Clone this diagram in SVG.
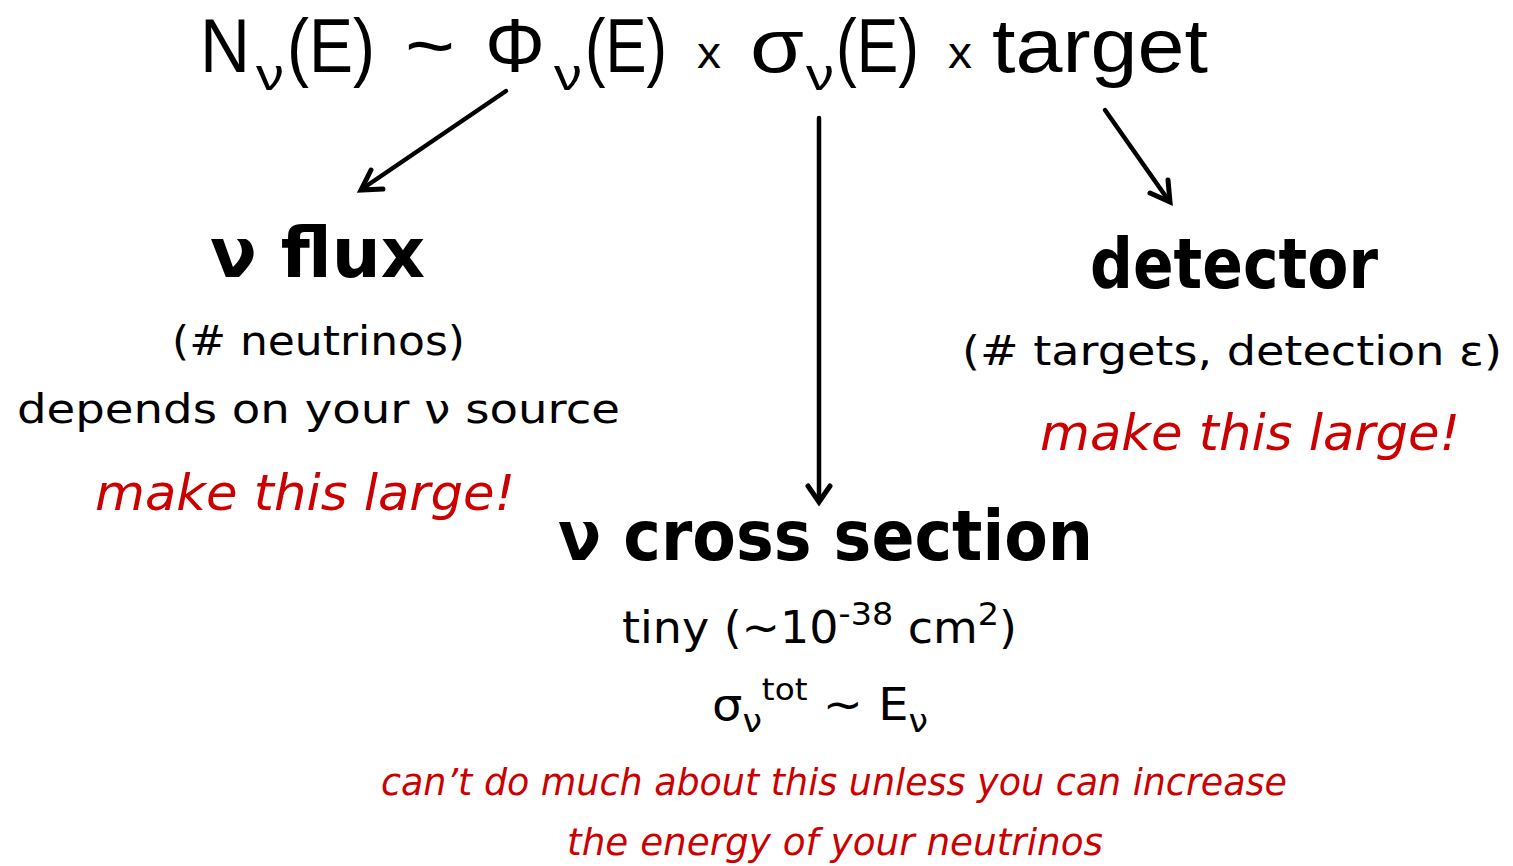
<svg xmlns="http://www.w3.org/2000/svg" width="1513" height="866" viewBox="0 0 1513 866">
<style>
.t{font-family:"Liberation Sans","DejaVu Sans",sans-serif;fill:#000}
.h{font-size:76px}
.s{font-size:44px}
.b{font-family:"DejaVu Sans","Liberation Sans",sans-serif;font-weight:bold;font-size:70px;fill:#000}
.n{font-family:"DejaVu Sans","Liberation Sans",sans-serif;font-size:40px;fill:#000}
.m{font-family:"DejaVu Sans","Liberation Sans",sans-serif;font-size:44px;fill:#000}
.r{font-family:"DejaVu Sans","Liberation Sans",sans-serif;font-style:italic;font-size:50px;fill:#cc0000}
.rs{font-family:"DejaVu Sans","Liberation Sans",sans-serif;font-style:italic;font-size:38px;fill:#cc0000}
.a{stroke:#000;stroke-width:4.5;fill:none;stroke-linecap:round}
.hd{stroke:#000;stroke-width:5;fill:none;stroke-linejoin:miter;stroke-linecap:round}
</style>
<g id="formula">
<text class="t h" x="200" y="72" textLength="50" lengthAdjust="spacingAndGlyphs">N</text>
<text class="t s" x="256" y="90" textLength="28" lengthAdjust="spacingAndGlyphs">ν</text>
<text class="t h" x="287" y="72" textLength="88" lengthAdjust="spacingAndGlyphs">(E)</text>
<text class="t h" x="405" y="72" textLength="50" lengthAdjust="spacingAndGlyphs">~</text>
<text class="t h" x="485" y="72" textLength="60" lengthAdjust="spacingAndGlyphs">Φ</text>
<text class="t s" x="554" y="90" textLength="28" lengthAdjust="spacingAndGlyphs">ν</text>
<text class="t h" x="585" y="72" textLength="82" lengthAdjust="spacingAndGlyphs">(E)</text>
<text class="t s" x="697" y="68" textLength="24" lengthAdjust="spacingAndGlyphs">x</text>
<text class="t h" x="750" y="72" textLength="54" lengthAdjust="spacingAndGlyphs">σ</text>
<text class="t s" x="806" y="90" textLength="28" lengthAdjust="spacingAndGlyphs">ν</text>
<text class="t h" x="836" y="72" textLength="83" lengthAdjust="spacingAndGlyphs">(E)</text>
<text class="t s" x="948" y="68" textLength="24" lengthAdjust="spacingAndGlyphs">x</text>
<text class="t h" x="992" y="72" textLength="216" lengthAdjust="spacingAndGlyphs">target</text>
</g>
<g id="connectors">
<line class="a" x1="506" y1="91" x2="362" y2="189"/>
<polyline class="hd" points="383,189 361,190 371,170"/>
<line class="a" x1="819" y1="118" x2="819" y2="501"/>
<polyline class="hd" points="808,486 819,502 830,486"/>
<line class="a" x1="1105" y1="110" x2="1169" y2="201"/>
<polyline class="hd" points="1168,180 1170,202 1150,193"/>
</g>
<g id="flux">
<text class="b" x="210" y="277" textLength="215" lengthAdjust="spacingAndGlyphs">ν flux</text>
<text class="n" x="172" y="355" textLength="293" lengthAdjust="spacingAndGlyphs">(# neutrinos)</text>
<text class="n" x="17" y="423" textLength="603" lengthAdjust="spacingAndGlyphs">depends on your ν source</text>
<text class="r" x="95" y="510" textLength="420" lengthAdjust="spacingAndGlyphs">make this large!</text>
</g>
<g id="detector">
<text class="b" x="1090" y="288" textLength="288" lengthAdjust="spacingAndGlyphs">detector</text>
<text class="n" x="962" y="365" textLength="540" lengthAdjust="spacingAndGlyphs">(# targets, detection ε)</text>
<text class="r" x="1040" y="450" textLength="420" lengthAdjust="spacingAndGlyphs">make this large!</text>
</g>
<g id="cross-section">
<text class="b" x="558" y="560" textLength="535" lengthAdjust="spacingAndGlyphs">ν cross section</text>
<text class="m" x="622" y="643" textLength="395" lengthAdjust="spacingAndGlyphs">tiny (~10<tspan dy="-18" font-size="32">-38</tspan><tspan dy="18"> cm</tspan><tspan dy="-18" font-size="32">2</tspan><tspan dy="18">)</tspan></text>
<text class="m" x="712" y="720" textLength="216" lengthAdjust="spacingAndGlyphs">σ<tspan dy="12" font-size="32">ν</tspan><tspan dy="-32" font-size="30">tot</tspan><tspan dy="20"> ~ E</tspan><tspan dy="12" font-size="32">ν</tspan></text>
<text class="rs" x="381" y="795" textLength="906" lengthAdjust="spacingAndGlyphs">can’t do much about this unless you can increase</text>
<text class="rs" x="567" y="855" textLength="536" lengthAdjust="spacingAndGlyphs">the energy of your neutrinos</text>
</g>
</svg>
